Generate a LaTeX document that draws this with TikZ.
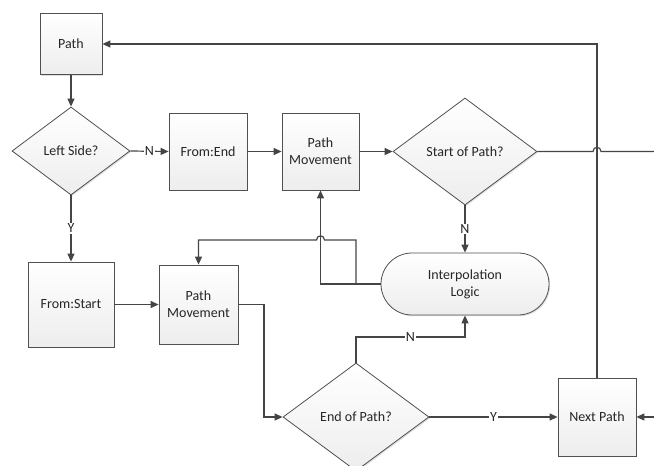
\documentclass[tikz,border=0pt]{standalone}
\usepackage{fontspec}
\setmainfont{Carlito}
\usetikzlibrary{shapes.geometric,shapes.misc,arrows.meta,shadows}
\definecolor{edge}{HTML}{505050}
\definecolor{wire}{HTML}{454545}
\tikzset{
  shapebase/.style={draw=edge, line width=0.8pt, top color=white, bottom color=gray!14,
    drop shadow={shadow xshift=1.2pt, shadow yshift=-1.2pt, opacity=0.25, fill=gray},
    font=\fontsize{14}{17}\selectfont, align=center, inner sep=0pt, text=black!85},
  boxnode/.style={shapebase, rectangle},
  decide/.style={shapebase, diamond, aspect=1.35},
  termnode/.style={shapebase, rounded rectangle},
  wireline/.style={draw=wire, line width=1.2pt},
  arr/.style={wireline, -{Triangle[length=8pt,width=7pt]}},
  lbl/.style={fill=white, inner sep=1pt, font=\fontsize{14}{17}\selectfont, text=black!85}
}
\begin{document}
\begin{tikzpicture}[x=1pt,y=-1pt]
\useasboundingbox (0,0) rectangle (654,466);
% nodes
\node[boxnode, minimum width=62pt, minimum height=61pt] (path) at (71,44) {Path};
\node[decide, minimum width=118pt, minimum height=88pt] (leftside) at (71,151) {Left Side?};
\node[boxnode, minimum width=78pt, minimum height=77pt] (fromend) at (208,151.5) {From:End};
\node[boxnode, minimum width=77pt, minimum height=77pt] (pmA) at (320.5,151.5) {Path\\Movement};
\node[decide, minimum width=144pt, minimum height=107pt] (startp) at (465,151.5) {Start of Path?};
\node[boxnode, minimum width=86pt, minimum height=85pt] (fromstart) at (71,304.5) {From:Start};
\node[boxnode, minimum width=79pt, minimum height=79pt] (pmB) at (198.5,304.5) {Path\\Movement};
\node[termnode, minimum width=168pt, minimum height=62pt] (interp) at (465,284) {Interpolation\\Logic};
\node[decide, minimum width=146pt, minimum height=108pt] (endp) at (356,417) {End of Path?};
\node[boxnode, minimum width=78pt, minimum height=78pt] (next) at (597,417) {Next Path};
% free ends
\coordinate (rightA) at (654,151.5);
\coordinate (rightB) at (654,417);
\coordinate (c1) at (356,284);
\coordinate (c2) at (356,240);
\coordinate (c3) at (356,337);
\coordinate (c4) at (264,304.5);
% connectors
\draw[arr] (next.north) |- (path.east);
\draw[arr] (path.south) -- (leftside.north);
\draw[arr] (leftside.east) -- node[lbl]{N} (fromend.west);
\draw[arr] (fromend.east) -- (pmA.west);
\draw[arr] (pmA.east) -- (startp.west);
\draw[wireline] (startp.east) -- (593,151.5) .. controls (593,146) and (601,146) .. (601,151.5) -- (rightA);
\draw[arr] (startp.south) -- node[lbl]{N} (interp.north);
\draw[arr] (interp.west) -| (pmA.south);
\draw[arr] (interp.west) -- (c1) -- (c2) -- (324.5,240) .. controls (324.5,234.5) and (316.5,234.5) .. (316.5,240) -| (pmB.north);
\draw[arr] (fromstart.east) -- (pmB.west);
\draw[arr] (leftside.south) -- node[lbl]{Y} (fromstart.north);
\draw[arr] (pmB.east) -- (c4) |- (endp.west);
\draw[arr] (endp.north) -- (c3) -- node[lbl]{N} (c3 -| interp.south) -- (interp.south);
\draw[arr] (endp.east) -- node[lbl]{Y} (next.west);
\draw[arr] (rightB) -- (next.east);
\end{tikzpicture}
\end{document}
